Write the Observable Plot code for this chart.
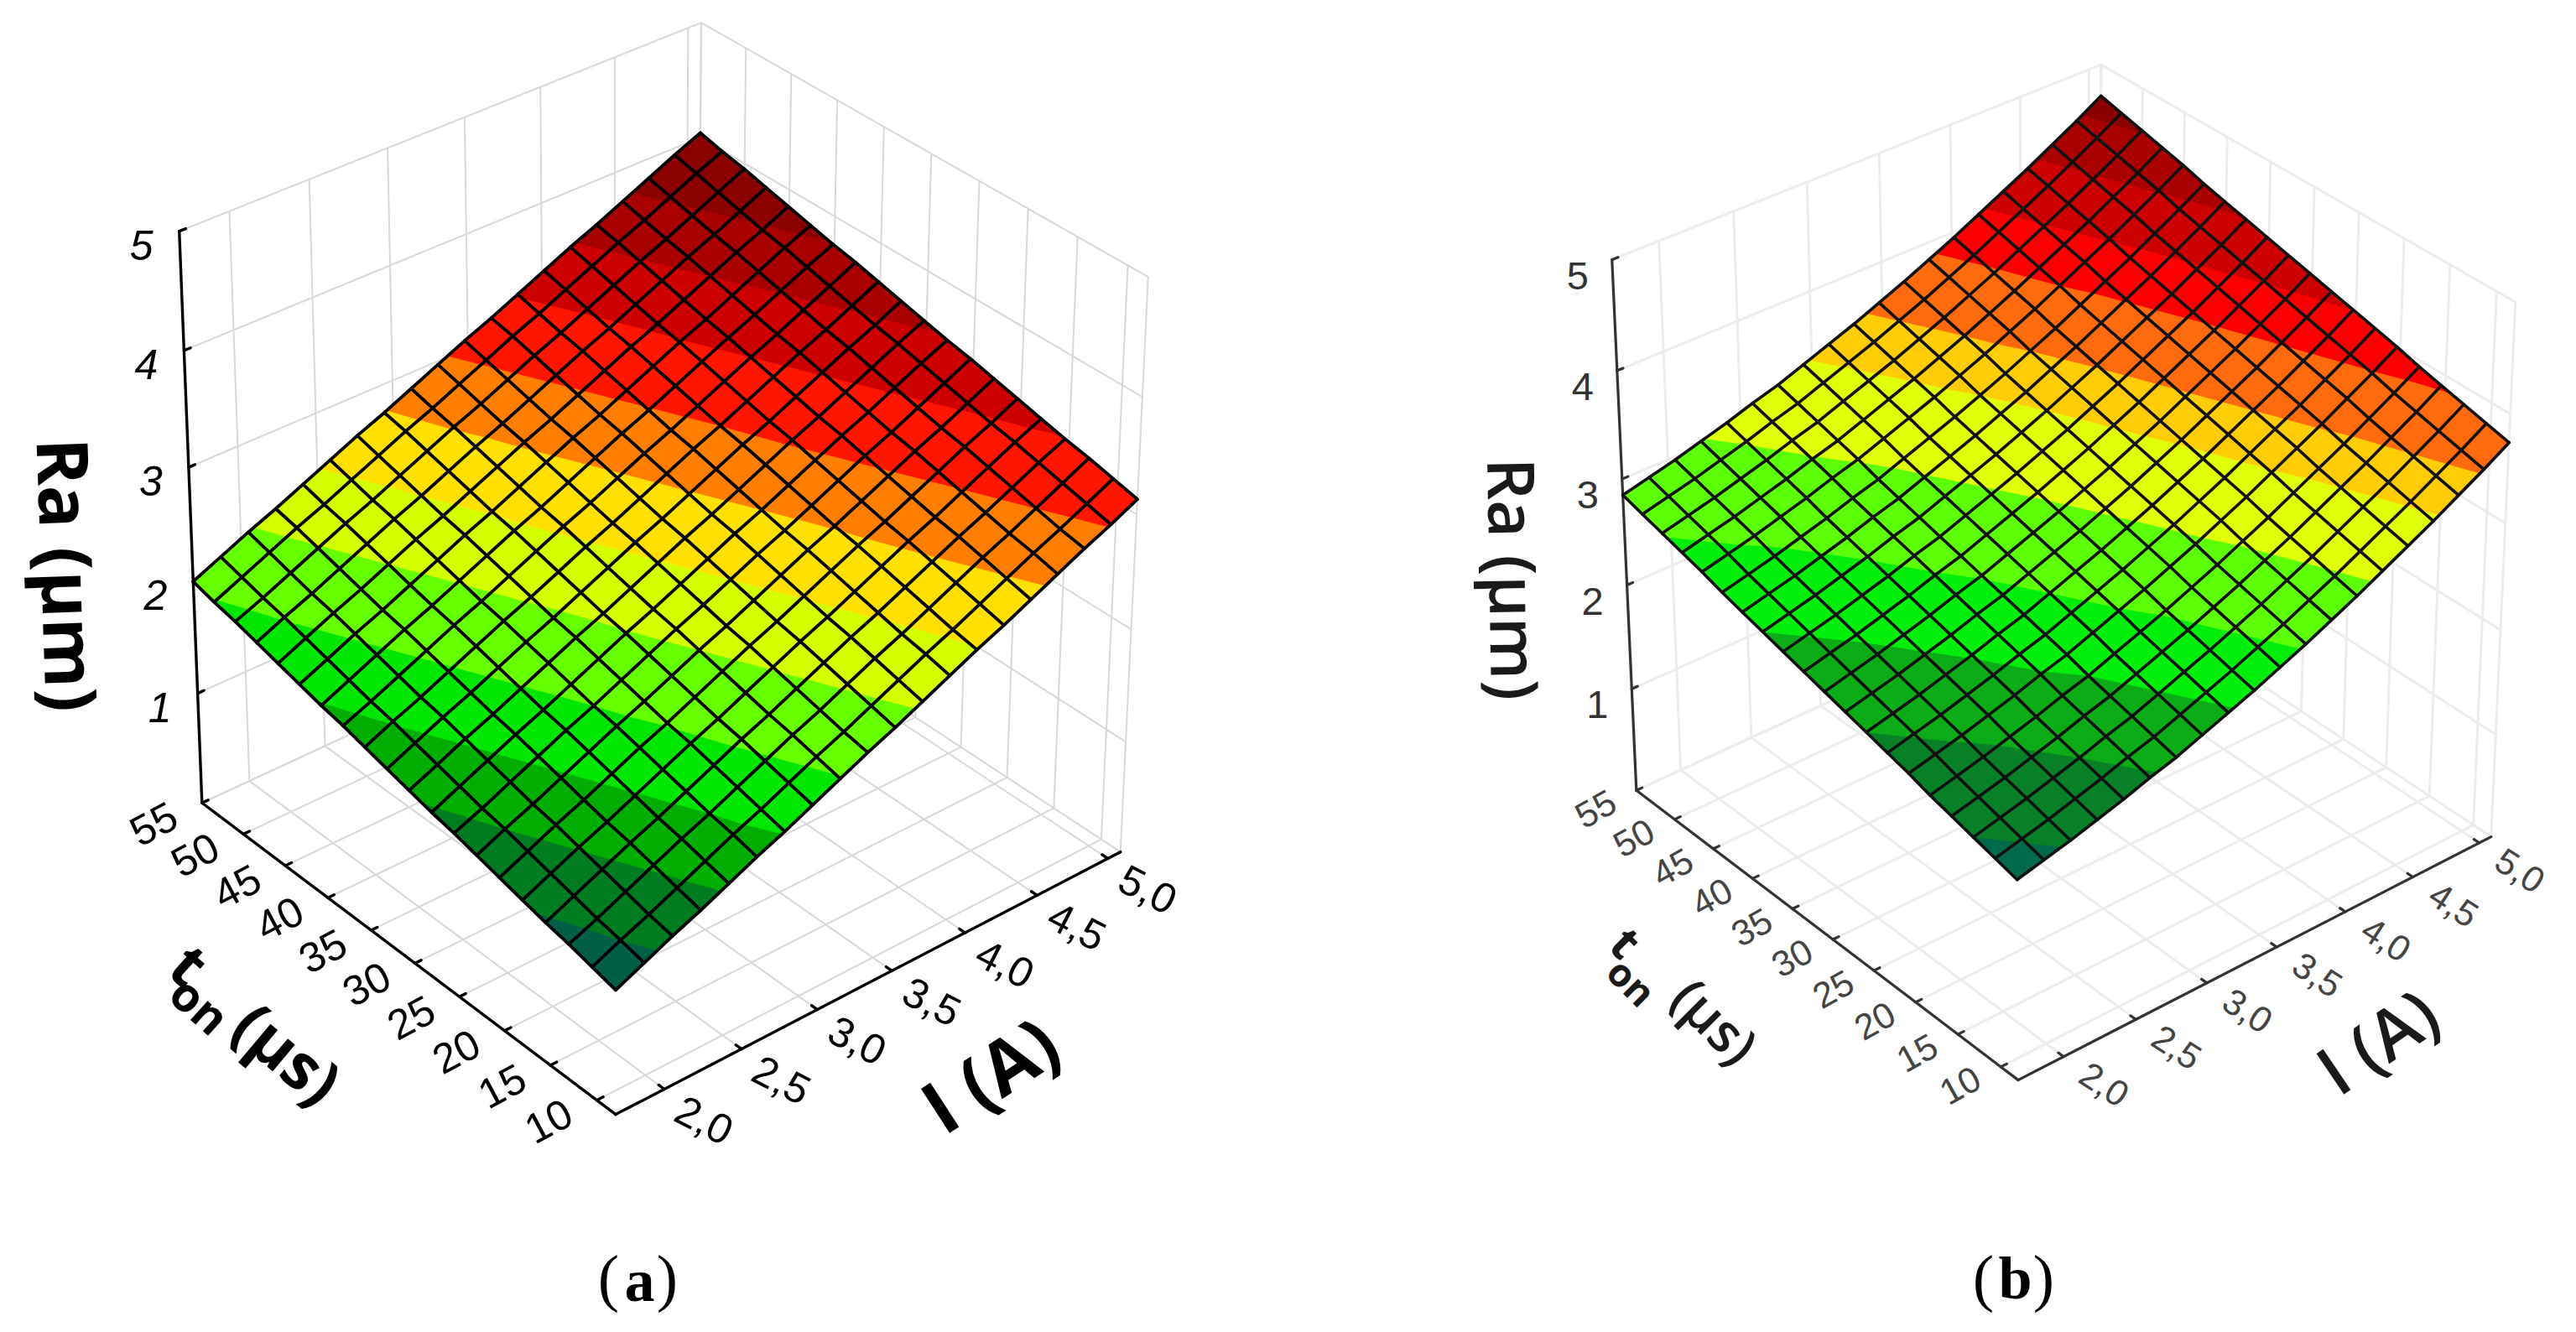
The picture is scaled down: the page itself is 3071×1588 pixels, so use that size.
<!DOCTYPE html>
<html><head><meta charset="utf-8">
<script src="https://cdn.jsdelivr.net/npm/d3@7"></script>
<script src="https://cdn.jsdelivr.net/npm/@observablehq/plot@0.6"></script>
<style>body{margin:0;background:#fff}</style></head><body><div id="c"></div>
<script>
const iTicks=[2,2.5,3,3.5,4,4.5,5], iLabels=["2,0","2,5","3,0","3,5","4,0","4,5","5,0"];
const tonTicks=[55,50,45,40,35,30,25,20,15,10], zTicks=[1,2,3,4,5];
const iRange=[1.69,5.09], tonRange=[8,55], zRange=[0,5];
// Ra (µm): one row per ton grid line (ton min → max), one column per I grid line (I min → max)
const raA=[
[1.09,1.20,1.31,1.41,1.52,1.63,1.73,1.84,1.95,2.06,2.16,2.27,2.38,2.49,2.59,2.70,2.81,2.92,3.02,3.13],
[1.14,1.25,1.35,1.46,1.57,1.68,1.78,1.89,2.00,2.10,2.21,2.32,2.43,2.53,2.64,2.75,2.86,2.96,3.07,3.18],
[1.19,1.29,1.40,1.51,1.62,1.72,1.83,1.94,2.05,2.15,2.26,2.37,2.47,2.58,2.69,2.80,2.90,3.01,3.12,3.23],
[1.23,1.34,1.45,1.56,1.66,1.77,1.88,1.99,2.09,2.20,2.31,2.42,2.52,2.63,2.74,2.85,2.95,3.06,3.17,3.27],
[1.28,1.39,1.50,1.60,1.71,1.82,1.93,2.03,2.14,2.25,2.36,2.46,2.57,2.68,2.79,2.89,3.00,3.11,3.22,3.32],
[1.33,1.44,1.55,1.65,1.76,1.87,1.97,2.08,2.19,2.30,2.40,2.51,2.62,2.73,2.83,2.94,3.05,3.16,3.26,3.37],
[1.38,1.49,1.59,1.70,1.81,1.92,2.02,2.13,2.24,2.34,2.45,2.56,2.67,2.77,2.88,2.99,3.10,3.20,3.31,3.42],
[1.43,1.53,1.64,1.75,1.86,1.96,2.07,2.18,2.29,2.39,2.50,2.61,2.71,2.82,2.93,3.04,3.14,3.25,3.36,3.47],
[1.47,1.58,1.69,1.80,1.90,2.01,2.12,2.23,2.33,2.44,2.55,2.66,2.76,2.87,2.98,3.09,3.19,3.30,3.41,3.51],
[1.52,1.63,1.74,1.84,1.95,2.06,2.17,2.27,2.38,2.49,2.60,2.70,2.81,2.92,3.03,3.13,3.24,3.35,3.46,3.56],
[1.57,1.68,1.79,1.89,2.00,2.11,2.21,2.32,2.43,2.54,2.64,2.75,2.86,2.97,3.07,3.18,3.29,3.40,3.50,3.61],
[1.62,1.73,1.83,1.94,2.05,2.16,2.26,2.37,2.48,2.58,2.69,2.80,2.91,3.01,3.12,3.23,3.34,3.44,3.55,3.66],
[1.67,1.77,1.88,1.99,2.10,2.20,2.31,2.42,2.53,2.63,2.74,2.85,2.95,3.06,3.17,3.28,3.38,3.49,3.60,3.71],
[1.71,1.82,1.93,2.04,2.14,2.25,2.36,2.47,2.57,2.68,2.79,2.90,3.00,3.11,3.22,3.33,3.43,3.54,3.65,3.75],
[1.76,1.87,1.98,2.08,2.19,2.30,2.41,2.51,2.62,2.73,2.84,2.94,3.05,3.16,3.27,3.37,3.48,3.59,3.70,3.80],
[1.81,1.92,2.03,2.13,2.24,2.35,2.45,2.56,2.67,2.78,2.88,2.99,3.10,3.21,3.31,3.42,3.53,3.64,3.74,3.85],
[1.86,1.97,2.07,2.18,2.29,2.40,2.50,2.61,2.72,2.82,2.93,3.04,3.15,3.25,3.36,3.47,3.58,3.68,3.79,3.90],
[1.91,2.01,2.12,2.23,2.34,2.44,2.55,2.66,2.77,2.87,2.98,3.09,3.19,3.30,3.41,3.52,3.62,3.73,3.84,3.95],
[1.95,2.06,2.17,2.28,2.38,2.49,2.60,2.71,2.81,2.92,3.03,3.14,3.24,3.35,3.46,3.57,3.67,3.78,3.89,3.99],
[2.00,2.11,2.22,2.32,2.43,2.54,2.65,2.75,2.86,2.97,3.08,3.18,3.29,3.40,3.51,3.61,3.72,3.83,3.94,4.04]];
// Ra (µm)
const raB=[
[1.88,1.94,2.00,2.07,2.14,2.22,2.29,2.38,2.47,2.56,2.66,2.76,2.87,2.98,3.10,3.22,3.34,3.47,3.60,3.74],
[1.93,1.99,2.05,2.12,2.19,2.27,2.34,2.43,2.52,2.61,2.71,2.81,2.92,3.03,3.15,3.27,3.39,3.52,3.65,3.79],
[1.98,2.04,2.10,2.17,2.24,2.32,2.39,2.48,2.57,2.66,2.76,2.86,2.97,3.08,3.20,3.32,3.44,3.57,3.70,3.84],
[2.03,2.09,2.15,2.22,2.29,2.37,2.44,2.53,2.62,2.71,2.81,2.91,3.02,3.13,3.25,3.37,3.49,3.62,3.75,3.89],
[2.08,2.14,2.20,2.27,2.34,2.42,2.49,2.58,2.67,2.76,2.86,2.96,3.07,3.18,3.30,3.42,3.54,3.67,3.80,3.94],
[2.14,2.20,2.26,2.33,2.40,2.48,2.55,2.64,2.73,2.82,2.92,3.02,3.13,3.24,3.36,3.48,3.60,3.73,3.86,4.00],
[2.19,2.25,2.31,2.38,2.45,2.53,2.60,2.69,2.78,2.87,2.97,3.07,3.18,3.29,3.41,3.53,3.65,3.78,3.91,4.05],
[2.24,2.30,2.36,2.43,2.50,2.58,2.65,2.74,2.83,2.92,3.02,3.12,3.23,3.34,3.46,3.58,3.70,3.83,3.96,4.10],
[2.29,2.35,2.41,2.48,2.55,2.63,2.70,2.79,2.88,2.97,3.07,3.17,3.28,3.39,3.51,3.63,3.75,3.88,4.01,4.15],
[2.34,2.40,2.46,2.53,2.60,2.68,2.75,2.84,2.93,3.02,3.12,3.22,3.33,3.44,3.56,3.68,3.80,3.93,4.06,4.20],
[2.39,2.45,2.51,2.58,2.65,2.73,2.80,2.89,2.98,3.07,3.17,3.27,3.38,3.49,3.61,3.73,3.85,3.98,4.11,4.25],
[2.44,2.50,2.56,2.63,2.70,2.78,2.85,2.94,3.03,3.12,3.22,3.32,3.43,3.54,3.66,3.78,3.90,4.03,4.16,4.30],
[2.49,2.55,2.61,2.68,2.75,2.83,2.90,2.99,3.08,3.17,3.27,3.37,3.48,3.59,3.71,3.83,3.95,4.08,4.21,4.35],
[2.54,2.60,2.66,2.73,2.80,2.88,2.95,3.04,3.13,3.22,3.32,3.42,3.53,3.64,3.76,3.88,4.00,4.13,4.26,4.40],
[2.59,2.65,2.71,2.78,2.85,2.93,3.00,3.09,3.18,3.27,3.37,3.47,3.58,3.69,3.81,3.93,4.05,4.18,4.31,4.45],
[2.65,2.71,2.77,2.84,2.91,2.99,3.06,3.15,3.24,3.33,3.43,3.53,3.64,3.75,3.87,3.99,4.11,4.24,4.37,4.51],
[2.70,2.76,2.82,2.89,2.96,3.04,3.11,3.20,3.29,3.38,3.48,3.58,3.69,3.80,3.92,4.04,4.16,4.29,4.42,4.56],
[2.75,2.81,2.87,2.94,3.01,3.09,3.16,3.25,3.34,3.43,3.53,3.63,3.74,3.85,3.97,4.09,4.21,4.34,4.47,4.61],
[2.80,2.86,2.92,2.99,3.06,3.14,3.21,3.30,3.39,3.48,3.58,3.68,3.79,3.90,4.02,4.14,4.26,4.39,4.52,4.66],
[2.85,2.91,2.97,3.04,3.11,3.19,3.26,3.35,3.44,3.53,3.63,3.73,3.84,3.95,4.07,4.19,4.31,4.44,4.57,4.71]];
const levelsA=[1.25,1.49,1.72,1.96,2.24,2.50,2.76,3.01,3.28,3.53,3.76];
const colorsA=["#005f45","#007c20","#00ad00","#00e600","#66ff00","#d4ff00","#ffe000","#ff7e00","#ff1500","#cc0000","#a80000","#8b0000"];
const levelsB=[1.98,2.24,2.49,2.74,3.05,3.37,3.58,3.87,4.1,4.36,4.6];
const colorsB=["#006b4a","#088027","#0cab18","#00ee0a","#5cff08","#e2ff0a","#ffcc05","#ff6a0c","#fa0000","#cc0000","#aa0000","#8a0000"];
const cornersA=[[732,1328],[1336,1014],[241,958],[214,274],[1369,331],[834,26.5]];
const cornersB=[[2404,1287],[2970,996],[1951,943],[1922,308],[2999,361],[2503,76.5]];
const unit=[[0,0,0],[1,0,0],[0,1,0],[0,1,1],[1,0,1],[1,1,1]];
function solveCam(c){
  const A=[],b=[];
  unit.forEach(([u,v,w],k)=>{const x=c[k][0]/1000,y=c[k][1]/1000;
    A.push([u,v,w,1,0,0,0,0,-x*u,-x*v,-x*w]);b.push(x);
    A.push([0,0,0,0,u,v,w,1,-y*u,-y*v,-y*w]);b.push(y);});
  const n=11,M=d3.range(n).map(i=>d3.range(n+1).map(j=>j<n?d3.sum(A,r=>r[i]*r[j]):d3.sum(A,(r,k)=>r[i]*b[k])));
  for(let i=0;i<n;i++){let p=i;for(let r=i+1;r<n;r++)if(Math.abs(M[r][i])>Math.abs(M[p][i]))p=r;[M[i],M[p]]=[M[p],M[i]];
    for(let r=0;r<n;r++)if(r!==i){const f=M[r][i]/M[i][i];for(let k=i;k<=n;k++)M[r][k]-=f*M[i][k];}}
  return d3.range(n).map(i=>M[i][n]/M[i][i]);
}
function proj(m,I,t,z){
  const u=(I-iRange[0])/(iRange[1]-iRange[0]),v=(t-tonRange[0])/(tonRange[1]-tonRange[0]),w=(z-zRange[0])/(zRange[1]-zRange[0]);
  const d=m[8]*u+m[9]*v+m[10]*w+1;
  return [1000*(m[0]*u+m[1]*v+m[2]*w+m[3])/d,1000*(m[4]*u+m[5]*v+m[6]*w+m[7])/d];
}
const camA=solveCam(cornersA),camB=solveCam(cornersB);
const [I0,I1]=iRange,[T0,T1]=tonRange;
function segs(m,list){const out=[];list.forEach(([a,b],k)=>{const p=proj(m,...a),q=proj(m,...b);out.push({x:p[0],y:p[1],id:k},{x:q[0],y:q[1],id:k});});return out;}
function wallLines(m){const l=[];
  for(const I of iTicks){l.push([[I,T0,0],[I,T1,0]],[[I,T1,0],[I,T1,5]]);}
  for(const t of tonTicks){l.push([[I0,t,0],[I1,t,0]],[[I1,t,0],[I1,t,5]]);}
  for(const z of zTicks){l.push([[I0,T1,z],[I1,T1,z]],[[I1,T1,z],[I1,T0,z]]);}
  l.push([[I0,T1,0],[I1,T1,0]],[[I1,T1,0],[I1,T0,0]],[[I1,T1,0],[I1,T1,5]],[[I1,T0,0],[I1,T0,5]]);
  return segs(m,l);}
function axisLines(m){const l=[[[I0,T1,0],[I0,T1,5]],[[I0,T1,0],[I0,T0,0]],[[I0,T0,0],[I1,T0,0]]];
  for(const z of zTicks)l.push([[I0,T1,z],[I0+.04,T1,z]]);
  for(const t of tonTicks)l.push([[I0,t,0],[I0+.04,t,0]]);
  for(const I of iTicks)l.push([[I,T0,0],[I,T0+.6,0]]);
  return segs(m,l);}
const tickLabels=m=>({
 z:zTicks.map(z=>({x:proj(m,I0,T1,z)[0],y:proj(m,I0,T1,z)[1],s:String(z)})),
 t:tonTicks.map(t=>({x:proj(m,I0,t,0)[0],y:proj(m,I0,t,0)[1],s:String(t)})),
 i:iTicks.map((I,k)=>({x:proj(m,I,T0,0)[0],y:proj(m,I,T0,0)[1],s:iLabels[k]}))});
const la=tickLabels(camA),lb=tickLabels(camB);
function gridPos(vals,fi,fj){const n=vals.length-1;
  const I=I0+(I1-I0)*fi/n,t=T0+(T1-T0)*fj/n;
  const a=Math.min(Math.floor(fi),n-1),b=Math.min(Math.floor(fj),n-1),p=fi-a,q=fj-b;
  const z=vals[b][a]*(1-p)*(1-q)+vals[b][a+1]*p*(1-q)+vals[b+1][a]*(1-p)*q+vals[b+1][a+1]*p*q;
  return [I,t,z];}
function bands(m,vals,levels,colors){
  const n=vals.length,out=[],cl=(c)=>Math.max(0,Math.min(n-1,c-.5));
  const cs=d3.contours().size([n,n]).thresholds([-1,...levels])(vals.flat());
  cs.forEach((c,k)=>c.coordinates.forEach((poly,a)=>poly.forEach((ring,b)=>ring.forEach(([cx,cy])=>{
    const p=proj(m,...gridPos(vals,cl(cx),cl(cy)));out.push({x:p[0],y:p[1],id:`${k}-${a}-${b}`,color:colors[k]});}))));
  return out;}
function mesh(m,vals){const n=vals.length,out=[];
  for(let j=0;j<n;j++)for(let i=0;i<n;i++){const p=proj(m,...gridPos(vals,i,j));out.push({x:p[0],y:p[1],id:"r"+j});}
  for(let i=0;i<n;i++)for(let j=0;j<n;j++){const p=proj(m,...gridPos(vals,i,j));out.push({x:p[0],y:p[1],id:"c"+i});}
  return out;}
const sans="Liberation Sans",tf="Open Sans",serif="Liberation Serif";
const T=(s,x,y,o)=>Plot.text([{x,y}],{x:"x",y:"y",text:()=>s,textAnchor:"middle",lineAnchor:"middle",...o});
const surf=(m,v,l,c,sw,st)=>[
 Plot.line(bands(m,v,l,c),{x:"x",y:"y",z:"id",fill:"color",stroke:"color",strokeWidth:.6}),
 Plot.line(mesh(m,v),{x:"x",y:"y",z:"id",stroke:st,strokeWidth:sw,strokeLinejoin:"round"})];
const plot=Plot.plot({width:3071,height:1588,margin:0,x:{domain:[0,3071],range:[0,3071],axis:null},y:{domain:[0,1588],range:[0,1588],axis:null},style:{background:"#fff"},marks:[
 Plot.line(wallLines(camA),{x:"x",y:"y",z:"id",stroke:"#d8d8d8",strokeWidth:2}),
 Plot.line(wallLines(camB),{x:"x",y:"y",z:"id",stroke:"#ececec",strokeWidth:3}),
 Plot.line(axisLines(camA),{x:"x",y:"y",z:"id",stroke:"#000",strokeWidth:3.4}),
 Plot.line(axisLines(camB),{x:"x",y:"y",z:"id",stroke:"#333",strokeWidth:3.2}),
 ...surf(camA,raA,levelsA,colorsA,3.8,"#000"),
 ...surf(camB,raB,levelsB,colorsB,3.6,"#111"),
 Plot.text(la.z,{x:"x",y:"y",text:"s",dx:-45,dy:18,fontSize:50,fontStyle:"italic",fontFamily:sans,fill:"#000"}),
 Plot.text(la.t,{x:"x",y:"y",text:"s",dx:-57,dy:26,fontSize:50,rotate:-28,fontFamily:sans,fill:"#000"}),
 Plot.text(la.i,{x:"x",y:"y",text:"s",dx:47,dy:38,fontSize:50,rotate:27,fontFamily:sans,fill:"#000"}),
 Plot.text(lb.z,{x:"x",y:"y",text:"s",dx:-41,dy:20,fontSize:47,fontFamily:sans,fill:"#333"}),
 Plot.text(lb.t,{x:"x",y:"y",text:"s",dx:-48,dy:23,fontSize:43,rotate:-29,fontFamily:sans,fill:"#444"}),
 Plot.text(lb.i,{x:"x",y:"y",text:"s",dx:48,dy:34,fontSize:43,rotate:33,fontFamily:sans,fill:"#444"}),
 T("Ra (µm)",76,685,{rotate:88,fontSize:85,fontWeight:700,fontFamily:tf,fill:"#000"}),
 T("t",223,1152,{rotate:42,fontSize:72,fontWeight:700,fontFamily:tf,fill:"#000"}),
 T("on",236,1200,{rotate:42,fontSize:56,fontWeight:700,fontFamily:tf,fill:"#000"}),
 T("(µs)",340,1258,{rotate:40,fontSize:76,fontWeight:700,fontFamily:tf,fill:"#000"}),
 T("I (A)",1182,1284,{rotate:-33,fontSize:88,fontWeight:700,fontFamily:tf,fill:"#000"}),
 T("Ra (µm)",1800,690,{rotate:89,fontSize:78,fontWeight:600,fontFamily:tf,fill:"#1a1a1a"}),
 T("t",1936,1125,{rotate:45,fontSize:56,fontWeight:700,fontFamily:tf,fill:"#1a1a1a"}),
 T("on",1943,1172,{rotate:45,fontSize:46,fontWeight:700,fontFamily:tf,fill:"#1a1a1a"}),
 T("(µs)",2042,1219,{rotate:45,fontSize:64,fontWeight:600,fontFamily:tf,fill:"#1a1a1a"}),
 T("I (A)",2836,1244,{rotate:-34,fontSize:82,fontWeight:600,fontFamily:tf,fill:"#1a1a1a"}),
 T("(",725,1524,{fontSize:76,fontFamily:serif,fill:"#000"}),
 T("a",762,1527,{fontSize:72,fontWeight:700,fontFamily:serif,fill:"#000"}),
 T(")",795,1524,{fontSize:76,fontFamily:serif,fill:"#000"}),
 T("(",2364,1524,{fontSize:76,fontFamily:serif,fill:"#000"}),
 T("b",2402,1524,{fontSize:72,fontWeight:700,fontFamily:serif,fill:"#000"}),
 T(")",2436,1524,{fontSize:76,fontFamily:serif,fill:"#000"}),
]});
document.getElementById("c").append(plot);
</script></body></html>
